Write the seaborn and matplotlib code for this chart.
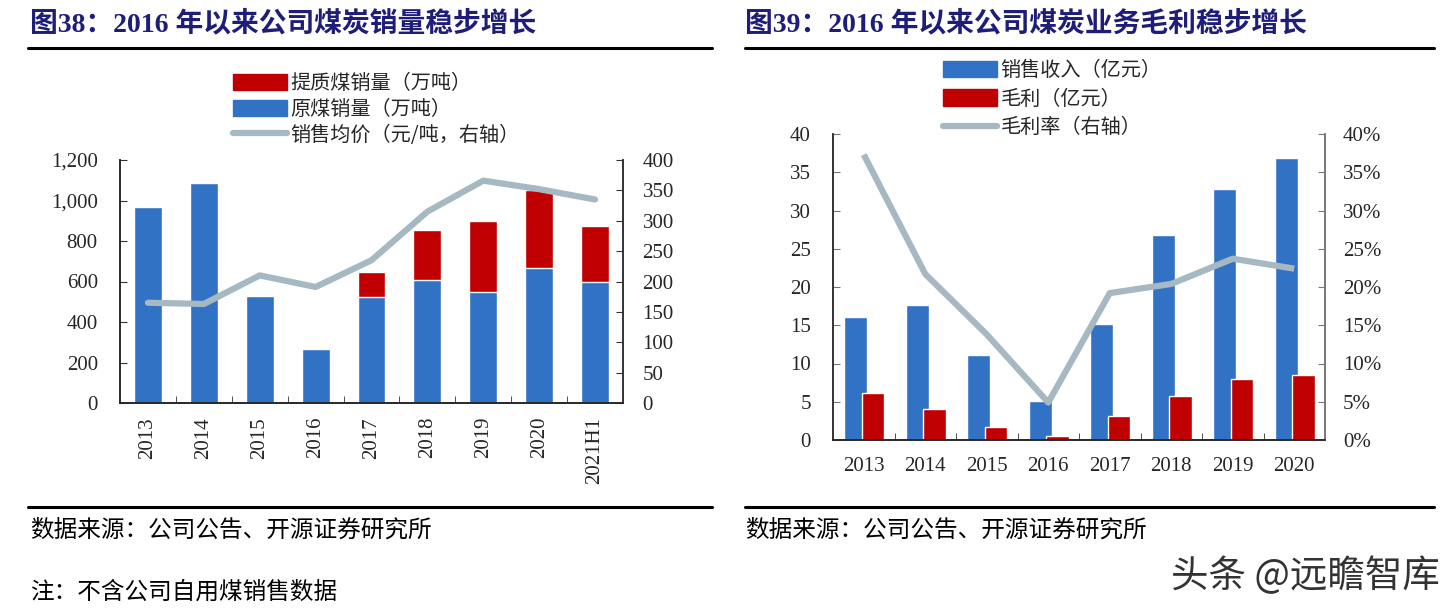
import numpy as np
import pandas as pd
import matplotlib
matplotlib.use("Agg")
import matplotlib.pyplot as plt
import seaborn as sns
from matplotlib.patches import Patch
from matplotlib.lines import Line2D
from matplotlib.ticker import FuncFormatter

# ---- data: chart 38 (coal sales volume) ----
years_38 = ["2013", "2014", "2015", "2016", "2017", "2018", "2019", "2020", "2021H1"]
raw_coal = [970, 1088, 527, 267, 522, 605, 549, 668, 598]          # 原煤销量(万吨)
upgraded_coal = [0, 0, 0, 0, 124, 249, 351, 382, 276]             # 提质煤销量(万吨)
avg_price = [165, 163, 210, 191, 235, 315, 366, 352, 335]         # 销售均价(元/吨)

# ---- data: chart 39 (coal business gross profit) ----
years_39 = ["2013", "2014", "2015", "2016", "2017", "2018", "2019", "2020"]
revenue = [16.1, 17.7, 11.1, 5.1, 15.1, 26.8, 32.8, 36.9]         # 销售收入(亿元)
gross_profit = [6.2, 4.05, 1.75, 0.5, 3.1, 5.7, 8.0, 8.5]         # 毛利(亿元)
gross_margin = [37.3, 21.7, 13.8, 4.9, 19.2, 20.4, 23.7, 22.4]    # 毛利率(%)

BLUE = "#3172C4"
RED = "#C00000"
GRAY = "#A6B9C2"
NAVY = "#1E1E78"

sns.set_style("ticks")
plt.rcParams["font.family"] = ["Liberation Serif", "Noto Sans CJK SC", "DejaVu Sans"]
plt.rcParams["axes.linewidth"] = 1.2

W, H = 1444, 610
fig = plt.figure(figsize=(W / 100, H / 100), dpi=100)


def fx(px):
    return px / W


def fy(py):
    return 1 - py / H


def style_axes(ax, n, spine_col):
    ax.set_xlim(-0.5, n - 0.5)
    ax.set_xlabel("")
    ax.set_ylabel("")
    ax.spines["top"].set_visible(False)
    for s in ["left", "right", "bottom"]:
        ax.spines[s].set_color(spine_col)
    ax.spines["bottom"].set_color("#333333")
    ax.set_xticks(np.arange(0.5, n - 1, 1), minor=True)
    ax.tick_params(axis="x", which="major", length=0, labelsize=15)
    ax.tick_params(axis="x", which="minor", direction="in", length=5, color="#333333")
    ax.tick_params(axis="y", direction="in", length=5, labelsize=15, color=spine_col)


# ================= Chart 38 =================
ax1 = fig.add_axes([fx(120), fy(403), fx(503), 243 / H])
df1 = pd.DataFrame({"year": years_38, "raw": raw_coal, "upgraded": upgraded_coal})
df1["total"] = df1["raw"] + df1["upgraded"]
sns.barplot(data=df1, x="year", y="total", color=RED, width=0.5, saturation=1, ax=ax1)
sns.barplot(data=df1, x="year", y="raw", color=BLUE, width=0.5, saturation=1, ax=ax1)
style_axes(ax1, len(years_38), "#333333")
ax1.set_ylim(0, 1200)
ax1.set_yticks(range(0, 1201, 200))
ax1.yaxis.set_major_formatter(FuncFormatter(lambda v, p: f"{v:,.0f}"))
ax1.tick_params(axis="y", pad=16)
ax1.tick_params(axis="x", which="major", rotation=90, pad=10)

ax1b = ax1.twinx()
sns.lineplot(x=np.arange(len(years_38)), y=avg_price, color=GRAY, lw=4.5,
             solid_capstyle="round", ax=ax1b)
ax1b.set_ylim(0, 400)
ax1b.set_yticks(range(0, 401, 50))
ax1b.spines["top"].set_visible(False)
ax1b.spines["right"].set_color("#333333")
ax1b.tick_params(axis="y", direction="in", length=5, labelsize=15, pad=14, color="#333333")
ax1b.set_ylabel("")

h1 = [Patch(color=RED), Patch(color=BLUE), Line2D([0], [0], color=GRAY, lw=4.5, solid_capstyle="round")]
l1 = ["提质煤销量（万吨）", "原煤销量（万吨）", "销售均价（元/吨，右轴）"]
fig.legend(h1, l1, loc="upper left", bbox_to_anchor=(fx(233), fy(73)), frameon=False,
           prop={"family": ["Noto Sans CJK SC"], "size": 14.5}, handlelength=2.7,
           handleheight=0.9, handletextpad=0.15, labelspacing=0.24, borderpad=0,
           borderaxespad=0)

# ================= Chart 39 =================
ax2 = fig.add_axes([fx(833), fy(440), fx(492), 306 / H])
df2 = pd.DataFrame({"year": years_39, "销售收入": revenue, "毛利": gross_profit})
df2 = df2.melt(id_vars="year", var_name="series", value_name="value")
sns.barplot(data=df2, x="year", y="value", hue="series", palette=[BLUE, RED],
            width=0.74, saturation=1, legend=False, ax=ax2)
for p in ax2.patches:
    c = p.get_x() + p.get_width() / 2
    i = round(c)
    if c < i:
        p.set_width(0.38)
        p.set_x(i - 0.13 - 0.19)
    else:
        p.set_width(0.36)
        p.set_x(i + 0.15 - 0.18)
style_axes(ax2, len(years_39), "#777777")
ax2.set_ylim(0, 40)
ax2.set_yticks(range(0, 41, 5))
ax2.tick_params(axis="y", pad=16)
ax2.tick_params(axis="x", which="major", pad=12)

ax2b = ax2.twinx()
sns.lineplot(x=np.arange(len(years_39)), y=gross_margin, color=GRAY, lw=4.5,
             solid_capstyle="butt", ax=ax2b)
ax2b.set_ylim(0, 40)
ax2b.set_yticks(range(0, 41, 5))
ax2b.yaxis.set_major_formatter(FuncFormatter(lambda v, p: f"{v:.0f}%"))
ax2b.spines["top"].set_visible(False)
ax2b.spines["right"].set_color("#777777")
ax2b.tick_params(axis="y", direction="in", length=5, labelsize=15, pad=13, color="#777777")
ax2b.set_ylabel("")

h2 = [Patch(color=BLUE), Patch(color=RED), Line2D([0], [0], color=GRAY, lw=4.5)]
l2 = ["销售收入（亿元）", "毛利（亿元）", "毛利率（右轴）"]
fig.legend(h2, l2, loc="upper left", bbox_to_anchor=(fx(943), fy(60)), frameon=False,
           prop={"family": ["Noto Sans CJK SC"], "size": 14.5}, handlelength=2.7,
           handleheight=0.9, handletextpad=0.15, labelspacing=0.38, borderpad=0,
           borderaxespad=0)

# ================= titles, rules and notes =================
title_font = {"family": ["Liberation Serif", "Noto Sans CJK SC"], "size": 20,
              "weight": "bold", "color": NAVY}
fig.text(fx(30), fy(24), "图38：2016 年以来公司煤炭销量稳步增长", va="center", **title_font)
fig.text(fx(745), fy(24), "图39：2016 年以来公司煤炭业务毛利稳步增长", va="center", **title_font)

for x0, x1 in [(28, 712), (745, 1434)]:
    fig.add_artist(Line2D([fx(x0), fx(x1)], [fy(48), fy(48)], color="black", lw=2.2))
    fig.add_artist(Line2D([fx(x0), fx(x1)], [fy(507), fy(507)], color="black", lw=2.2))

note_font = {"family": ["Noto Sans CJK SC"], "size": 17, "color": "black"}
fig.text(fx(30), fy(530), "数据来源：公司公告、开源证券研究所", va="center", **note_font)
fig.text(fx(745), fy(530), "数据来源：公司公告、开源证券研究所", va="center", **note_font)
fig.text(fx(30), fy(592), "注：不含公司自用煤销售数据", va="center", **note_font)
fig.text(fx(1440), fy(577), "头条 @远瞻智库", va="center", ha="right",
         family=["Noto Sans CJK SC"], size=27, color="#333333")

fig.savefig("out.png", dpi=100)
